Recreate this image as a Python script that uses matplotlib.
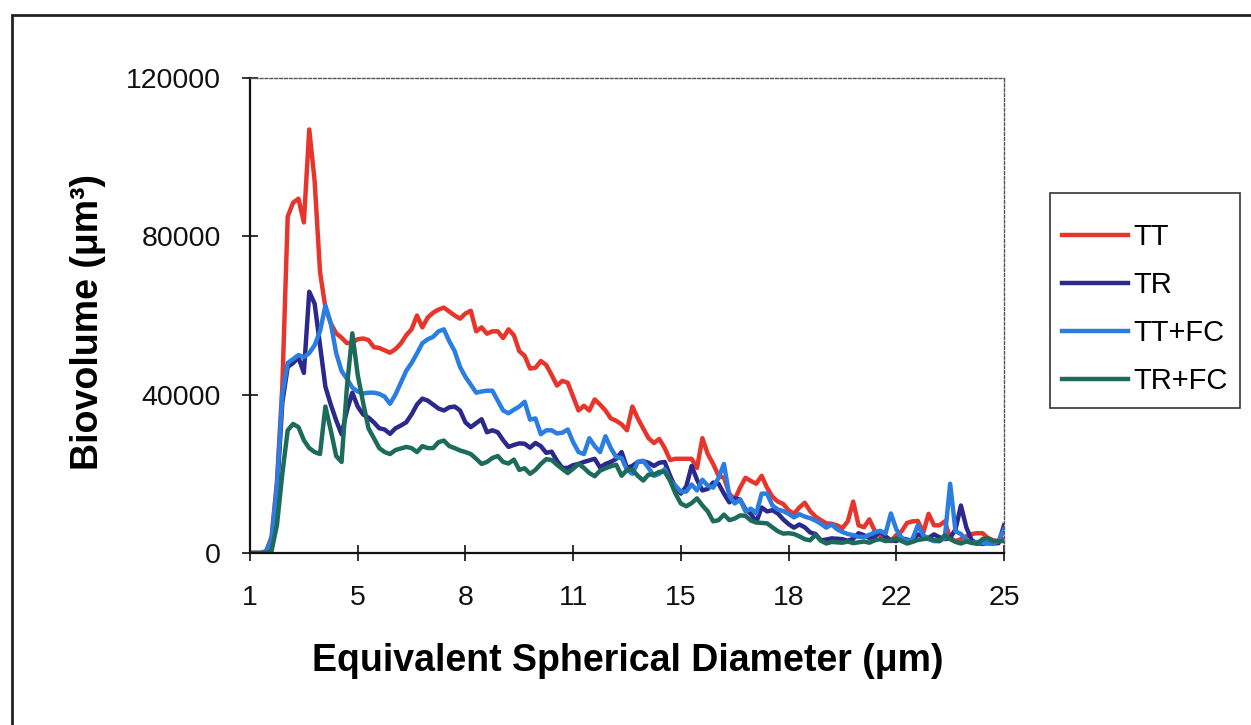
import numpy as np
import matplotlib
matplotlib.use("Agg")
import matplotlib.pyplot as plt
from matplotlib.patches import Rectangle
from matplotlib.lines import Line2D

# ---- data -------------------------------------------------------------
x_tick_labels = ['1', '5', '8', '11', '15', '18', '22', '25']
y_ticks = [0, 40000, 80000, 120000]
series_names = ['TT', 'TR', 'TT+FC', 'TR+FC']

TT = [0, 0, 0, 500, 4000, 18000, 42000, 85000, 88500, 89500,
      83500, 107000, 94000, 71000, 62000, 58000, 55500, 54400, 53000, 53200,
      54000, 54200, 53800, 52000, 51800, 51200, 50600, 51500, 52900, 55000,
      56500, 60000, 57000, 59500, 60700, 61500, 62000, 61000, 60000, 59200,
      60500, 61200, 56000, 57000, 55400, 56000, 56000, 54300, 56500, 55000,
      51000, 49800, 46600, 46800, 48500, 47500, 45000, 42300, 43500, 43000,
      39500, 36000, 37200, 36000, 38800, 37500, 36000, 34000, 33400, 32500,
      31000, 37000, 34000, 31500, 29000, 27800, 28800, 26500, 23500, 23800,
      23800, 23800, 23800, 21500, 29000, 25000, 22500, 19500, 19000, 15000,
      13500, 16500, 19000, 18200, 17500, 19500, 16500, 14200, 13000, 12400,
      10800, 9900, 11500, 12700, 10600, 9200, 8300, 7500, 7400, 7000,
      6300, 8000, 13000, 7000, 6500, 8500, 5600, 4500, 3500, 3000,
      4500, 5500, 7600, 8000, 8100, 5100, 9900, 7000, 7000, 8000,
      3800, 3000, 3500, 4200, 4800, 5000, 5000, 3800, 3200, 3000,
      3500]

TR = [0, 0, 0, 300, 3000, 15000, 38000, 47000, 48000, 49400,
      45500, 66000, 63000, 52500, 42000, 37500, 33500, 30000, 36000, 40500,
      37000, 35000, 34200, 33000, 31500, 31200, 30100, 31500, 32200, 33000,
      35000, 37500, 39000, 38500, 37500, 36500, 36000, 36800, 37000, 36000,
      33000, 31800, 32800, 33800, 30500, 31000, 30500, 28500, 26800, 27300,
      27700, 27600, 26600, 27800, 27000, 25300, 25600, 23300, 21500, 21500,
      22200, 22500, 23000, 23400, 23800, 21600, 22500, 23000, 23800, 25500,
      21500, 22000, 23000, 23200, 22800, 22000, 22800, 23000, 19500, 16500,
      15000, 16800, 22000, 18500, 15800, 16200, 17800, 17500, 15000, 12800,
      13800, 13500, 11000, 9900, 7800, 11500, 10500, 10800, 10000, 8500,
      7300, 6400, 7200, 6500, 5200, 4800, 3200, 3400, 3700, 3600,
      3500, 3100, 3600, 5000, 4500, 3800, 4100, 5500, 4200, 3200,
      3000, 3700, 3400, 3000, 4700, 4200, 3800, 4700, 4000, 3500,
      3800, 6000, 12000, 6500, 3200, 2500, 2300, 2500, 2400, 2500,
      7000]

TT_FC = [0, 0, 0, 300, 3500, 17000, 40000, 48000, 49000, 50000,
         49500, 50500, 52500, 56000, 62500, 58000, 50500, 46000, 44000, 41800,
         40800, 40300, 40500, 40500, 40200, 39500, 37700, 40000, 43000, 46000,
         48000, 50400, 53000, 54000, 54600, 56000, 56500, 53500, 51000, 47000,
         44500, 42500, 40500, 40800, 41000, 41000, 38500, 36000, 35300, 36200,
         37000, 38200, 33700, 34000, 30000, 31000, 31000, 30200, 30400, 31200,
         28000, 25500, 25000, 29000, 27000, 25500, 29500, 26500, 24200, 24000,
         21000, 20000, 23000, 23300, 21500, 19500, 20000, 21200, 18300, 17000,
         15500, 15500, 17300, 15800, 18500, 17000, 16500, 19000, 22500, 14500,
         12500, 13500, 10500, 11200, 10000, 15000, 15000, 12000, 11000, 10600,
         9900, 9000, 9800, 9200, 8800, 8200, 7400, 6400, 7200, 6000,
         5300, 4800, 4500, 4100, 4000, 4600, 5200, 5600, 4900, 10000,
         6000, 3800, 3000, 3500, 7000, 4500, 3500, 3000, 3000, 3800,
         17500, 5500, 4800, 3300, 2500, 2800, 2600, 2400, 2400, 3000,
         6000]

TR_FC = [0, 0, 0, 0, 500, 7000, 20000, 31000, 32600, 31800,
         28500, 26500, 25500, 25000, 37000, 31000, 24500, 23000, 42000, 55500,
         45000, 38000, 31500, 29000, 26500, 25500, 25000, 26000, 26400, 26800,
         26500, 25500, 27000, 26500, 26500, 28000, 28400, 27000, 26500, 25900,
         25500, 25000, 23800, 22500, 23000, 24000, 24500, 23000, 22600, 23600,
         21000, 21400, 20000, 21000, 22500, 23700, 23500, 22300, 21200, 20200,
         21300, 22500, 21500, 20200, 19400, 20800, 21400, 21900, 22300, 19500,
         21000, 21000, 19500, 18300, 19800, 19800, 20500, 20500, 18300, 15000,
         12500, 11800, 12600, 13800, 12000, 10500, 8000, 8300, 9700, 8300,
         8700, 9500, 9400, 8200, 7700, 7600, 7500, 6500, 5500, 4900,
         5000, 4800, 4200, 3500, 3200, 4600, 3100, 2400, 2800, 2700,
         2600, 2900, 2500, 2700, 2900, 2600, 3200, 3500, 3000, 3200,
         3700, 3000, 2400, 2800, 3300, 3500, 3700, 3300, 3000, 4500,
         3500, 2800, 2400, 2900, 2600, 2300, 3500, 3700, 3000, 3000,
         3000]

colors = ['#e8352b', '#2b2a8c', '#2a7de1', '#1d6b5a']

plt.rcParams['font.family'] = ['Liberation Sans', 'DejaVu Sans']

W, H = 1251, 725
fig = plt.figure(figsize=(W / 100, H / 100), dpi=100)
fig.patch.set_facecolor('white')

# outer frame
fig.patches.append(Rectangle((12 / W, -0.05), 1.2, (H - 15) / H + 0.05,
                             transform=fig.transFigure, fill=False,
                             edgecolor='#222222', linewidth=2.0))

L, R, T, B = 250, 1004, 78, 553
ax = fig.add_axes([L / W, 1 - B / H, (R - L) / W, (B - T) / H])

series = [TT, TR, TT_FC, TR_FC]
for name, vals, c in zip(series_names, series, colors):
    xs = np.arange(len(vals))
    ax.plot(xs, vals, color=c, lw=3.2, solid_joinstyle='round', label=name)

n = len(TT)
ax.set_xlim(0, n - 1)
ax.set_ylim(0, 120000)
ax.set_xticks(np.linspace(0, n - 1, len(x_tick_labels)))
ax.set_xticklabels(x_tick_labels)
ax.set_yticks(y_ticks)
ax.set_yticklabels([str(v) for v in y_ticks])

ax.tick_params(axis='both', direction='inout', length=12, width=1.2,
               labelsize=20.5, colors='#111111')
ax.tick_params(axis='x', pad=17)
ax.tick_params(axis='y', pad=15)

for s in ['left', 'bottom']:
    ax.spines[s].set_linewidth(1.6)
    ax.spines[s].set_color('#111111')
for s in ['top', 'right']:
    ax.spines[s].set_linewidth(1.0)
    ax.spines[s].set_color('#555555')
    ax.spines[s].set_linestyle((0, (2, 1.5)))

fig.text(628 / W, 1 - 661 / H, 'Equivalent Spherical Diameter (μm)',
         ha='center', va='center', fontsize=27, fontweight='bold')
fig.text(88 / W, 1 - 322 / H, 'Biovolume (μm³)', rotation=90,
         ha='center', va='center', fontsize=27, fontweight='bold')

# legend box drawn separately, entries placed inside it
fig.patches.append(Rectangle((1050 / W, 1 - 408 / H), 190 / W, 215 / H,
                             transform=fig.transFigure, fill=False,
                             edgecolor='#333333', linewidth=1.2))
handles = [Line2D([], [], color=c, lw=3.2) for c in colors]
leg = fig.legend(handles, series_names, loc='upper left',
                 bbox_to_anchor=(1062 / W, 1 - 223 / H),
                 frameon=False, fontsize=21,
                 handlelength=2.27, handletextpad=0.17, labelspacing=0.69,
                 borderpad=0, borderaxespad=0)

fig.savefig('out.png', dpi=100)
